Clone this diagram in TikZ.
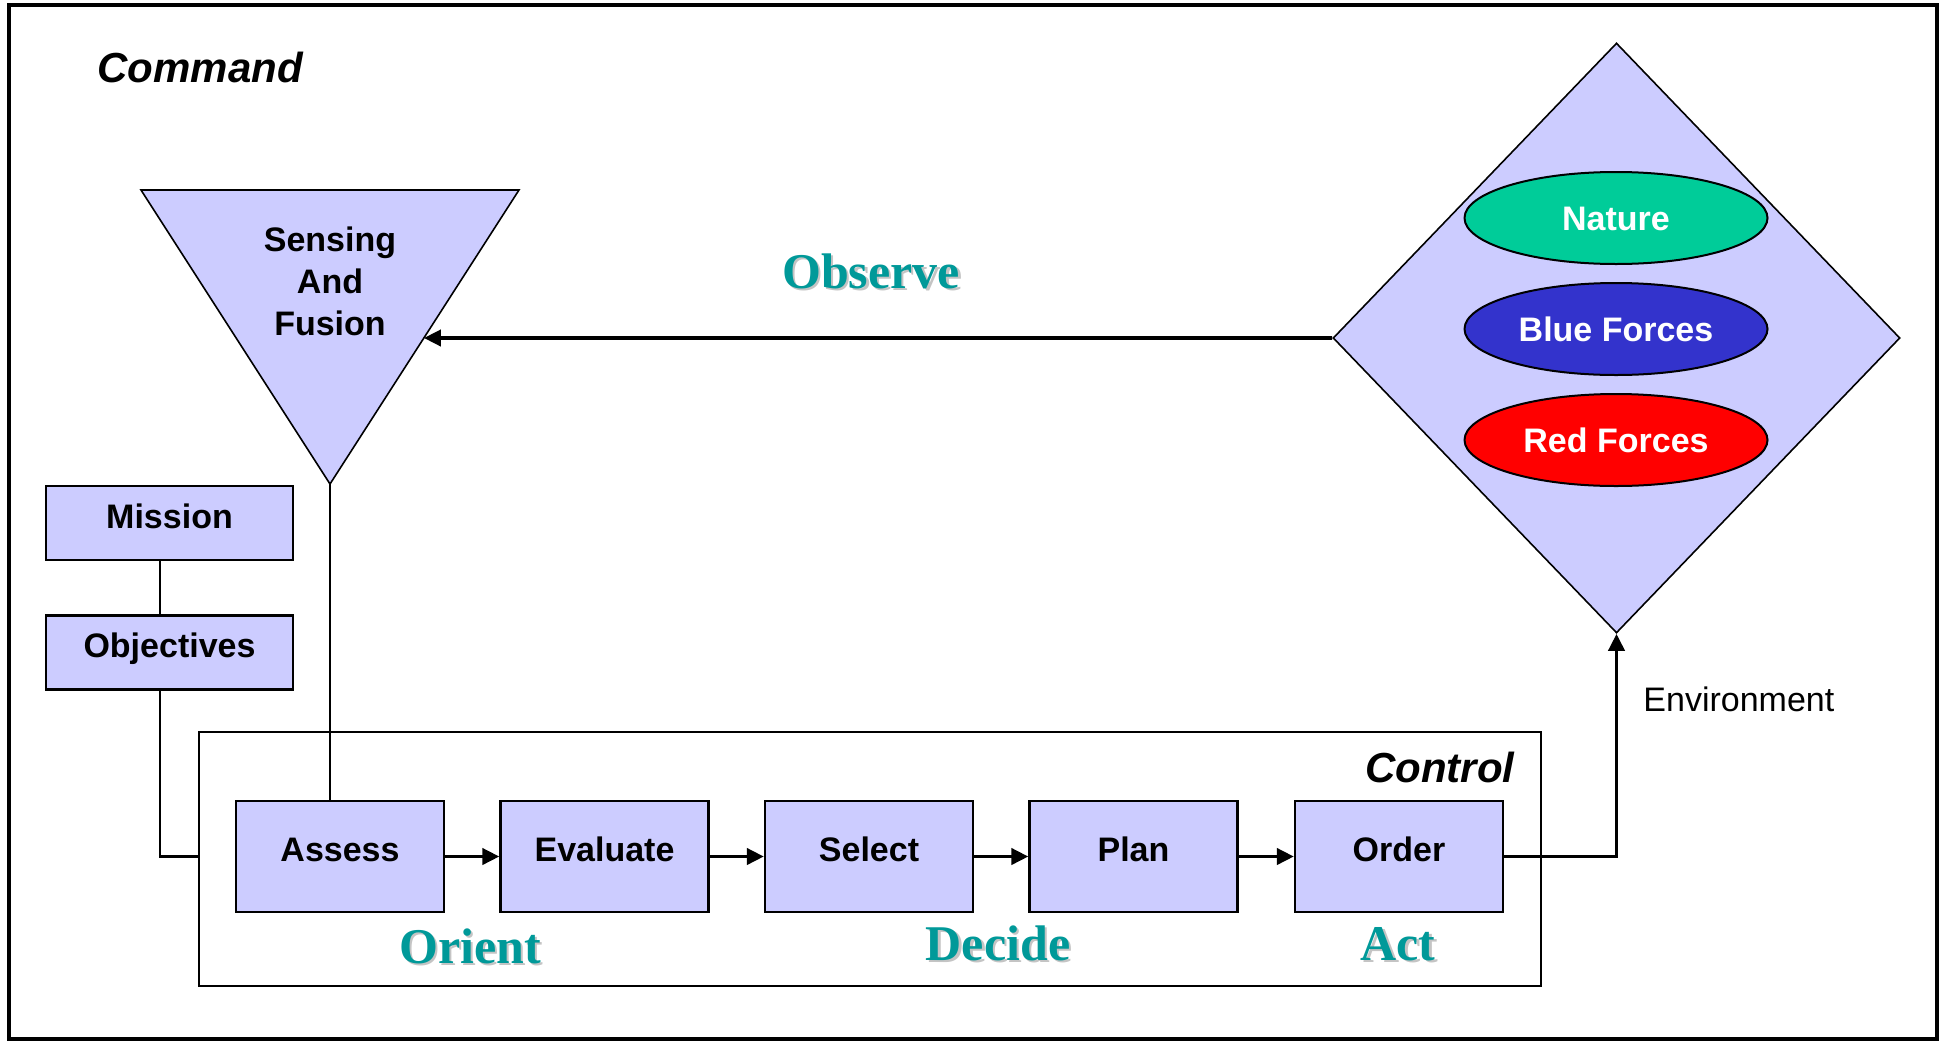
\documentclass[tikz,border=0pt]{standalone}
\usepackage{fontspec}
\setmainfont{Liberation Sans}
\newfontfamily\timesfont{Liberation Serif}
\usetikzlibrary{arrows.meta,calc,shapes.geometric}
\definecolor{lav}{HTML}{CCCCFF}
\definecolor{phasecol}{HTML}{009999}
\definecolor{natcol}{HTML}{00CC99}
\definecolor{bluecol}{HTML}{3333CC}
\definecolor{redcol}{HTML}{FF0000}
\definecolor{shadowcol}{HTML}{C4C4C4}
\tikzset{
  procbox/.style={draw=black, line width=1.1pt, fill=lav, inner sep=0pt,
    minimum width=104pt, minimum height=55.5pt,
    font=\fontsize{17}{20}\selectfont\bfseries, text height=12.2pt, text depth=7pt},
  sidebox/.style={procbox, minimum width=123.5pt, minimum height=37pt},
  force/.style={ellipse, draw=black, line width=1pt, inner sep=0pt,
    minimum width=151.5pt, minimum height=46pt, text=white,
    font=\fontsize{17}{20}\selectfont\bfseries, text height=12.2pt, text depth=0pt},
  phase/.style={font=\timesfont\fontsize{25}{28}\selectfont\bfseries, text=phasecol, inner sep=0pt, anchor=base},
  phaseshadow/.style={phase, text=shadowcol},
  headline/.style={font=\fontsize{21}{24}\selectfont\bfseries\itshape, inner sep=0pt},
  conn/.style={line width=1.1pt},
  arr/.style={line width=1.9pt, -{Triangle[length=8.5pt,width=8pt]}},
}
\begin{document}
\begin{tikzpicture}[x=0.5pt,y=-0.5pt]
\useasboundingbox (0,0) rectangle (1946,1044);
% outer frame
\draw[line width=1.8pt] (9,5) rectangle (1937,1039);
\node[headline, anchor=base west] (command) at (97,82) {Command};

% control frame
\node[draw=black, line width=1.1pt, minimum width=671pt, minimum height=127pt, inner sep=0pt] (control) at (870,859) {};
\node[headline, anchor=base east] (controllbl) at (1515,782) {Control};

% sensing triangle
\coordinate (tl) at (141,190);
\coordinate (tr) at (519,190);
\coordinate (tb) at (330,484);
\draw[fill=lav, line width=0.8pt, line join=miter] (tl) -- (tr) -- (tb) -- cycle;
\node[align=center, font=\fontsize{17}{21}\selectfont\bfseries, inner sep=0pt] (sensing) at (330,281) {Sensing\\And\\Fusion};
\coordinate (obsend) at ($(tr)!0.5034!(tb)$);

% environment diamond
\node[diamond, draw=black, line width=0.8pt, fill=lav, inner sep=0pt,
      minimum width=283.5pt, minimum height=295pt] (dia) at (1616.5,338) {};
\node[force, fill=natcol] (nature) at (1616,218) {Nature};
\node[force, fill=bluecol] (blue) at (1616,329) {Blue Forces};
\node[force, fill=redcol] (red) at (1616,440) {Red Forces};

% mission / objectives
\node[sidebox] (mission) at (169.5,523) {Mission};
\node[sidebox] (objectives) at (169.5,652.5) {Objectives};
\coordinate (mx) at (160,0);

% process boxes
\node[procbox] (assess) at (340,856.5) {Assess};
\node[procbox] (evaluate) at (604.5,856.5) {Evaluate};
\node[procbox] (select) at (869,856.5) {Select};
\node[procbox] (plan) at (1133.5,856.5) {Plan};
\node[procbox] (order) at (1399,856.5) {Order};

% connectors
\draw[conn] (mission.south -| mx) -- (objectives.north -| mx);
\draw[conn] (objectives.south -| mx) |- (control.west |- assess.center);
\draw[conn] (tb) -- (assess.north -| tb);
\draw[arr] (assess.east) -- (evaluate.west);
\draw[arr] (evaluate.east) -- (select.west);
\draw[arr] (select.east) -- (plan.west);
\draw[arr] (plan.east) -- (order.west);
\draw[arr] (order.east) -| (dia.south);
\draw[arr] (dia.west) -- (obsend);
\node[font=\fontsize{17}{20}\selectfont, anchor=base west, inner sep=0pt] (envlbl) at (1643,711) {Environment};

% phase labels with shadows
\node[phaseshadow] (observe-sh) at (873.5,290.5) {Observe};
\node[phase] (observe) at (871,288) {Observe};
\node[phaseshadow] (orient-sh) at (472.5,965.5) {Orient};
\node[phase] (orient) at (470,963) {Orient};
\node[phaseshadow] (decide-sh) at (1000.5,962.5) {Decide};
\node[phase] (decide) at (998,960) {Decide};
\node[phaseshadow] (act-sh) at (1400.5,962.5) {Act};
\node[phase] (act) at (1398,960) {Act};
\end{tikzpicture}
\end{document}
